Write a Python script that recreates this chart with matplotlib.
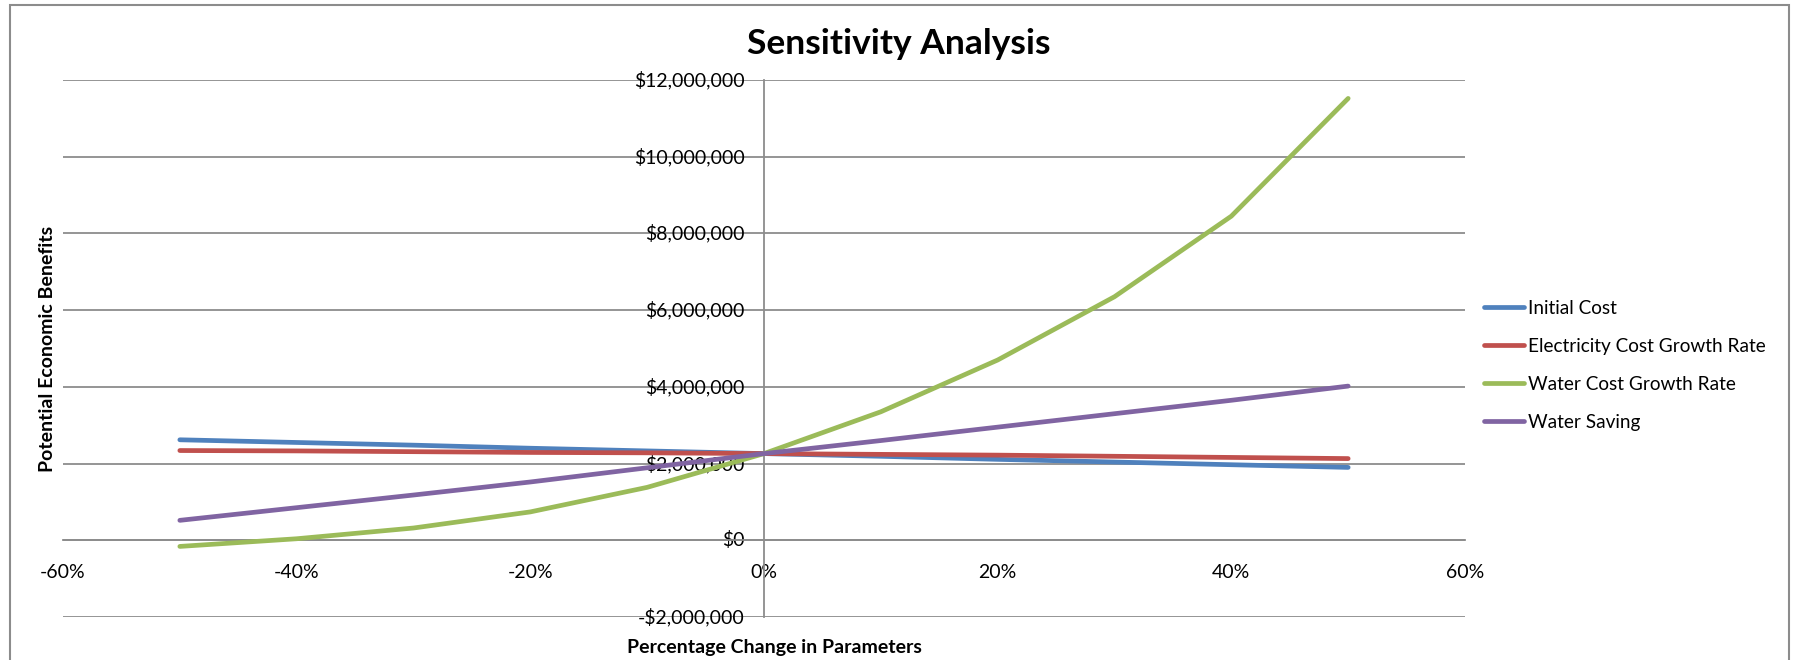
import matplotlib
matplotlib.use("Agg")
import matplotlib.pyplot as plt
from matplotlib.patches import Rectangle
from matplotlib.ticker import FuncFormatter

plt.rcParams['font.family'] = ['Lato', 'DejaVu Sans']

# percentage change in parameters
pct = [-50, -40, -30, -20, -10, 0, 10, 20, 30, 40, 50]

# potential economic benefits, in millions of dollars
initial_cost = [2.62, 2.55, 2.48, 2.40, 2.33, 2.26, 2.19, 2.11, 2.04, 1.97, 1.90]
electricity_growth = [2.34, 2.33, 2.31, 2.29, 2.28, 2.26, 2.24, 2.22, 2.19, 2.16, 2.13]
water_growth = [-0.16, 0.04, 0.32, 0.74, 1.38, 2.26, 3.35, 4.70, 6.35, 8.45, 11.52]
water_saving = [0.52, 0.85, 1.18, 1.52, 1.89, 2.26, 2.60, 2.95, 3.30, 3.65, 4.02]

series_names = ['Initial Cost', 'Electricity Cost Growth Rate', 'Water Cost Growth Rate', 'Water Saving']
series_colors = ['#4F81BD', '#C0504D', '#9BBB59', '#8064A2']

W, H = 1798, 660
fig = plt.figure(figsize=(W / 100, H / 100), dpi=100)
ax = fig.add_axes([63 / W, 1 - 617 / H, (1465 - 63) / W, (617 - 80) / H])

grid_col = '#8C8C8C'
for name, vals, col in zip(series_names,
                           [initial_cost, electricity_growth, water_growth, water_saving],
                           series_colors):
    ax.plot(pct, [v * 1e6 for v in vals], color=col, lw=3.4, label=name,
            solid_capstyle='round', solid_joinstyle='round', zorder=3)

ax.set_xlim(-60, 60)
ax.set_ylim(-2e6, 12e6)
ax.set_xticks(range(-60, 61, 20))
ax.set_yticks(range(-2000000, 12000001, 2000000))
ax.yaxis.grid(True, color=grid_col, lw=1.3)
ax.set_axisbelow(True)

ax.xaxis.set_major_formatter(FuncFormatter(lambda v, p: f'{int(v)}%'))
ax.yaxis.set_major_formatter(FuncFormatter(
    lambda v, p: ('-' if v < 0 else '') + '${:,.0f}'.format(abs(v))))

for s in ['top', 'right']:
    ax.spines[s].set_visible(False)
ax.spines['left'].set_position(('data', 0))
ax.spines['bottom'].set_position(('data', 0))
ax.spines['left'].set_color(grid_col)
ax.spines['bottom'].set_color(grid_col)
ax.spines['left'].set_linewidth(1.3)
ax.spines['bottom'].set_linewidth(1.3)
ax.tick_params(axis='both', length=0, labelsize=14, colors='black')
ax.tick_params(axis='x', pad=17)
ax.tick_params(axis='y', pad=14)
for lbl in ax.get_yticklabels():
    lbl.set_verticalalignment('center')

fig.text(0.5, 1 - 44 / H, 'Sensitivity Analysis', ha='center', va='center',
         fontsize=25.5, fontweight='bold')
fig.text(774 / W, 1 - 648 / H, 'Percentage Change in Parameters', ha='center',
         va='center', fontsize=14, fontweight='bold')
fig.text(48 / W, 1 - 349 / H, 'Potential Economic Benefits', ha='center',
         va='center', rotation=90, fontsize=14, fontweight='bold')

leg = ax.legend(loc='upper left', bbox_to_anchor=(1467 / W, 1 - 283 / H),
                bbox_transform=fig.transFigure, frameon=False, fontsize=13.7,
                handlelength=2.1, handletextpad=0.2, labelspacing=1.1)

fig.patches.append(Rectangle((10 / W, -0.1), (1789 - 10) / W, 1.1 - 5 / H,
                             transform=fig.transFigure, fill=False,
                             edgecolor='#8C8C8C', lw=1.5))

fig.savefig('out.png', dpi=100)
